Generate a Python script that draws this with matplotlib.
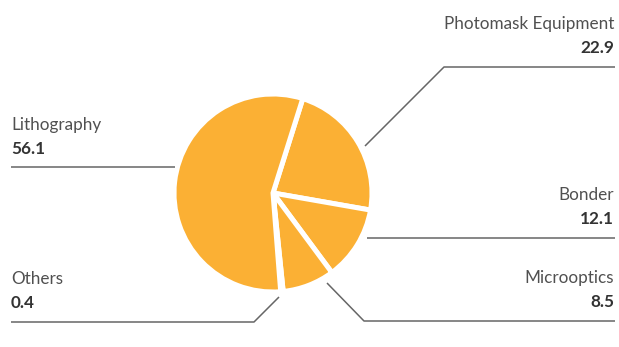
import matplotlib.pyplot as plt

plt.rcParams['font.family'] = ['Lato', 'DejaVu Sans']

# market share by equipment segment (%)
labels = ['Photomask Equipment', 'Bonder', 'Microoptics', 'Others', 'Lithography']
values = [22.9, 12.1, 8.5, 0.4, 56.1]

W, H = 619, 347
COLOR = '#FBB034'
LINE = '#666666'

# label layout in pixel coords (y down): text x, name baseline, alignment, leader path
layout = {
    'Photomask Equipment': (614, 29, 'right', [(365, 146), (444, 67), (615, 67)]),
    'Bonder': (614, 200, 'right', [(367, 238), (615, 238)]),
    'Microoptics': (614, 283, 'right', [(327, 283), (364, 321), (615, 321)]),
    'Others': (11, 284, 'left', [(279, 297), (254, 322), (11, 322)]),
    'Lithography': (11, 130, 'left', [(175, 167), (11, 167)]),
}

fig = plt.figure(figsize=(W / 100, H / 100), dpi=100)
ax = fig.add_axes([0, 0, 1, 1])

ax.pie(values, colors=[COLOR] * len(values), startangle=72.5, counterclock=False,
       center=(273, H - 193), radius=99, frame=True,
       wedgeprops=dict(edgecolor='white', linewidth=3.6))

for name, val in zip(labels, values):
    x, yb, ha, path = layout[name]
    ax.text(x, H - yb, name, ha=ha, va='baseline', fontsize=12.3, color='#505050')
    ax.text(x, H - yb - 24, f'{val:.1f}', ha=ha, va='baseline', fontsize=12.3,
            fontweight='bold', color='#333333')
    xs = [p[0] for p in path]
    ys = [H - p[1] for p in path]
    ax.plot(xs, ys, color=LINE, lw=1.1, solid_capstyle='butt')

ax.set_xlim(0, W)
ax.set_ylim(0, H)
ax.set_aspect('auto')
ax.axis('off')

fig.savefig('out.png', dpi=100)
